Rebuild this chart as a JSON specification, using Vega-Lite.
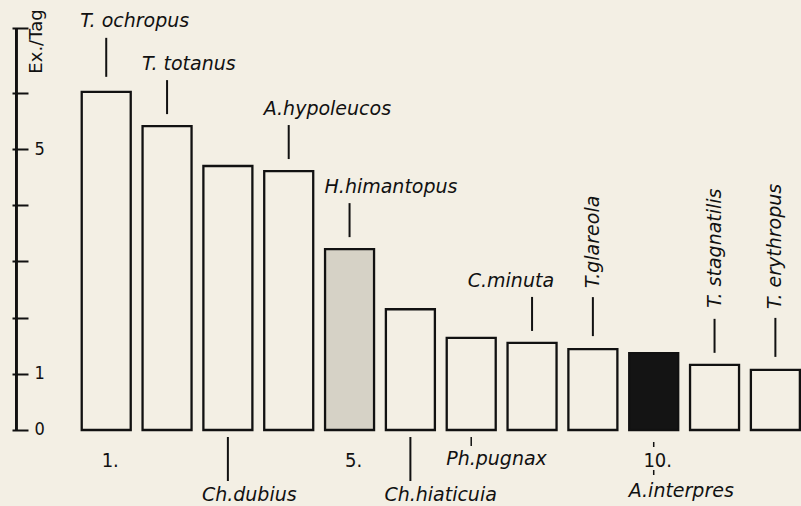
{
  "$schema": "https://vega.github.io/schema/vega-lite/v6.json",
  "width": 801,
  "height": 506,
  "autosize": "none",
  "padding": 0,
  "background": "#f3efe4",
  "config": {"view": {"stroke": null}},
  "data": {"values": [
    {"rank": 1, "species": "T. ochropus", "value": 6.02},
    {"rank": 2, "species": "T. totanus", "value": 5.41},
    {"rank": 3, "species": "Ch.dubius", "value": 4.70},
    {"rank": 4, "species": "A.hypoleucos", "value": 4.61},
    {"rank": 5, "species": "H.himantopus", "value": 3.22},
    {"rank": 6, "species": "Ch.hiaticuia", "value": 2.15},
    {"rank": 7, "species": "Ph.pugnax", "value": 1.64},
    {"rank": 8, "species": "C.minuta", "value": 1.55},
    {"rank": 9, "species": "T.glareola", "value": 1.44},
    {"rank": 10, "species": "A.interpres", "value": 1.37},
    {"rank": 11, "species": "T. stagnatilis", "value": 1.16},
    {"rank": 12, "species": "T. erythropus", "value": 1.07}
  ]},
  "layer": [
    {
      "mark": {"type": "bar", "width": 49, "stroke": "#111", "strokeWidth": 2.3, "strokeJoin": "miter"},
      "encoding": {
        "x": {"field": "rank", "type": "quantitative", "scale": {"domain": [-0.664, 12.339], "nice": false, "zero": false}, "axis": null},
        "y": {"field": "value", "type": "quantitative",
              "scale": {"domain": [-1.353, 7.655], "nice": false, "zero": false},
              "axis": {"orient": "left", "offset": -12, "domain": false, "grid": false,
                       "values": [0, 1, 2, 3, 4, 5, 6, 7.15], "format": "d",
                       "tickSize": -16, "tickWidth": 2, "tickColor": "#111",
                       "labelExpr": "datum.value==0||datum.value==1||datum.value==5 ? datum.label : ''",
                       "labelAlign": "left", "labelBaseline": "middle", "labelPadding": -6, "labelFlush": false,
                       "labelFont": "DejaVu Sans Condensed", "labelFontSize": 18, "labelColor": "#111",
                       "title": "Ex./Tag", "titleX": 24, "titleY": 41, "titleAngle": 270,
                       "titleAlign": "center", "titleBaseline": "middle",
                       "titleFont": "DejaVu Sans", "titleFontSize": 18, "titleFontWeight": "normal", "titleColor": "#111"}},
        "y2": {"datum": 0},
        "fill": {"condition": [
          {"test": "datum.rank == 10", "value": "#141414"},
          {"test": "datum.rank == 5", "value": "#d6d2c6"}
        ], "value": "#f3efe4"}
      }
    },
    {
      "mark": {"type": "rule", "strokeWidth": 2, "color": "#111"},
      "encoding": {"x": {"datum": -0.48, "type": "quantitative"}, "y": {"datum": 0}, "y2": {"datum": 7.15}}
    },
    {
      "transform": [{"filter": {"field": "rank", "oneOf": [2, 4, 5, 8, 11]}}],
      "mark": {"type": "rule", "strokeWidth": 2, "color": "#111", "yOffset": -12, "y2Offset": -46},
      "encoding": {"x": {"field": "rank", "type": "quantitative"}, "y": {"field": "value", "type": "quantitative"}, "y2": {"field": "value"}}
    },
    {
      "transform": [{"filter": {"field": "rank", "oneOf": [9, 12]}}],
      "mark": {"type": "rule", "strokeWidth": 2, "color": "#111", "yOffset": -13, "y2Offset": -52},
      "encoding": {"x": {"field": "rank", "type": "quantitative"}, "y": {"field": "value", "type": "quantitative"}, "y2": {"field": "value"}}
    },
    {
      "transform": [{"filter": {"field": "rank", "oneOf": [1]}}],
      "mark": {"type": "rule", "strokeWidth": 2, "color": "#111", "yOffset": -15, "y2Offset": -54},
      "encoding": {"x": {"field": "rank", "type": "quantitative"}, "y": {"field": "value", "type": "quantitative"}, "y2": {"field": "value"}}
    },
    {
      "transform": [{"filter": {"field": "rank", "oneOf": [2, 4, 5]}}],
      "mark": {"type": "text", "align": "left", "baseline": "alphabetic", "xOffset": -25, "yOffset": -56, "font": "DejaVu Sans", "fontStyle": "italic", "fontSize": 19, "color": "#111"},
      "encoding": {"x": {"field": "rank", "type": "quantitative"}, "y": {"field": "value", "type": "quantitative"}, "text": {"field": "species"}}
    },
    {
      "transform": [{"filter": {"field": "rank", "oneOf": [1]}}],
      "mark": {"type": "text", "align": "left", "baseline": "alphabetic", "xOffset": -26, "yOffset": -65, "font": "DejaVu Sans", "fontStyle": "italic", "fontSize": 19, "color": "#111"},
      "encoding": {"x": {"field": "rank", "type": "quantitative"}, "y": {"field": "value", "type": "quantitative"}, "text": {"field": "species"}}
    },
    {
      "transform": [{"filter": {"field": "rank", "oneOf": [8]}}],
      "mark": {"type": "text", "align": "right", "baseline": "alphabetic", "xOffset": 22, "yOffset": -56, "font": "DejaVu Sans", "fontStyle": "italic", "fontSize": 19, "color": "#111"},
      "encoding": {"x": {"field": "rank", "type": "quantitative"}, "y": {"field": "value", "type": "quantitative"}, "text": {"field": "species"}}
    },
    {
      "transform": [{"filter": {"field": "rank", "oneOf": [9, 12]}}],
      "mark": {"type": "text", "align": "left", "baseline": "middle", "angle": 270, "yOffset": -61, "font": "DejaVu Sans", "fontStyle": "italic", "fontSize": 19, "color": "#111"},
      "encoding": {"x": {"field": "rank", "type": "quantitative"}, "y": {"field": "value", "type": "quantitative"}, "text": {"field": "species"}}
    },
    {
      "transform": [{"filter": {"field": "rank", "oneOf": [11]}}],
      "mark": {"type": "text", "align": "left", "baseline": "middle", "angle": 270, "yOffset": -57, "font": "DejaVu Sans", "fontStyle": "italic", "fontSize": 19, "color": "#111"},
      "encoding": {"x": {"field": "rank", "type": "quantitative"}, "y": {"field": "value", "type": "quantitative"}, "text": {"field": "species"}}
    },
    {
      "transform": [{"filter": {"field": "rank", "oneOf": [3, 6]}}],
      "mark": {"type": "rule", "strokeWidth": 2, "color": "#111", "yOffset": 7, "y2Offset": 51},
      "encoding": {"x": {"field": "rank", "type": "quantitative"}, "y": {"datum": 0}, "y2": {"datum": 0}}
    },
    {
      "transform": [{"filter": {"field": "rank", "oneOf": [3, 6]}}],
      "mark": {"type": "text", "align": "left", "baseline": "alphabetic", "xOffset": -26, "yOffset": 71, "font": "DejaVu Sans", "fontStyle": "italic", "fontSize": 19, "color": "#111"},
      "encoding": {"x": {"field": "rank", "type": "quantitative"}, "y": {"datum": 0}, "text": {"field": "species"}}
    },
    {
      "transform": [{"filter": {"field": "rank", "oneOf": [7]}}],
      "mark": {"type": "rule", "strokeWidth": 1.5, "color": "#111", "yOffset": 7, "y2Offset": 16},
      "encoding": {"x": {"field": "rank", "type": "quantitative"}, "y": {"datum": 0}, "y2": {"datum": 0}}
    },
    {
      "transform": [{"filter": {"field": "rank", "oneOf": [7]}}],
      "mark": {"type": "text", "align": "left", "baseline": "alphabetic", "xOffset": -25, "yOffset": 35, "font": "DejaVu Sans", "fontStyle": "italic", "fontSize": 19, "color": "#111"},
      "encoding": {"x": {"field": "rank", "type": "quantitative"}, "y": {"datum": 0}, "text": {"field": "species"}}
    },
    {
      "transform": [{"filter": {"field": "rank", "oneOf": [10]}}],
      "mark": {"type": "rule", "strokeWidth": 1.5, "color": "#111", "yOffset": 12, "y2Offset": 17},
      "encoding": {"x": {"field": "rank", "type": "quantitative"}, "y": {"datum": 0}, "y2": {"datum": 0}}
    },
    {
      "transform": [{"filter": {"field": "rank", "oneOf": [10]}}],
      "mark": {"type": "rule", "strokeWidth": 1.5, "color": "#111", "yOffset": 40, "y2Offset": 45},
      "encoding": {"x": {"field": "rank", "type": "quantitative"}, "y": {"datum": 0}, "y2": {"datum": 0}}
    },
    {
      "transform": [{"filter": {"field": "rank", "oneOf": [10]}}],
      "mark": {"type": "text", "align": "left", "baseline": "alphabetic", "xOffset": -25, "yOffset": 67, "font": "DejaVu Sans", "fontStyle": "italic", "fontSize": 19, "color": "#111"},
      "encoding": {"x": {"field": "rank", "type": "quantitative"}, "y": {"datum": 0}, "text": {"field": "species"}}
    },
    {
      "transform": [{"filter": {"field": "rank", "oneOf": [1, 5, 10]}}, {"calculate": "datum.rank + '.'", "as": "ordinal"}],
      "mark": {"type": "text", "align": "center", "baseline": "alphabetic", "xOffset": 4, "yOffset": 37, "font": "DejaVu Sans Condensed", "fontSize": 20, "fontWeight": 500, "color": "#111"},
      "encoding": {"x": {"field": "rank", "type": "quantitative"}, "y": {"datum": 0}, "text": {"field": "ordinal"}}
    }
  ]
}
